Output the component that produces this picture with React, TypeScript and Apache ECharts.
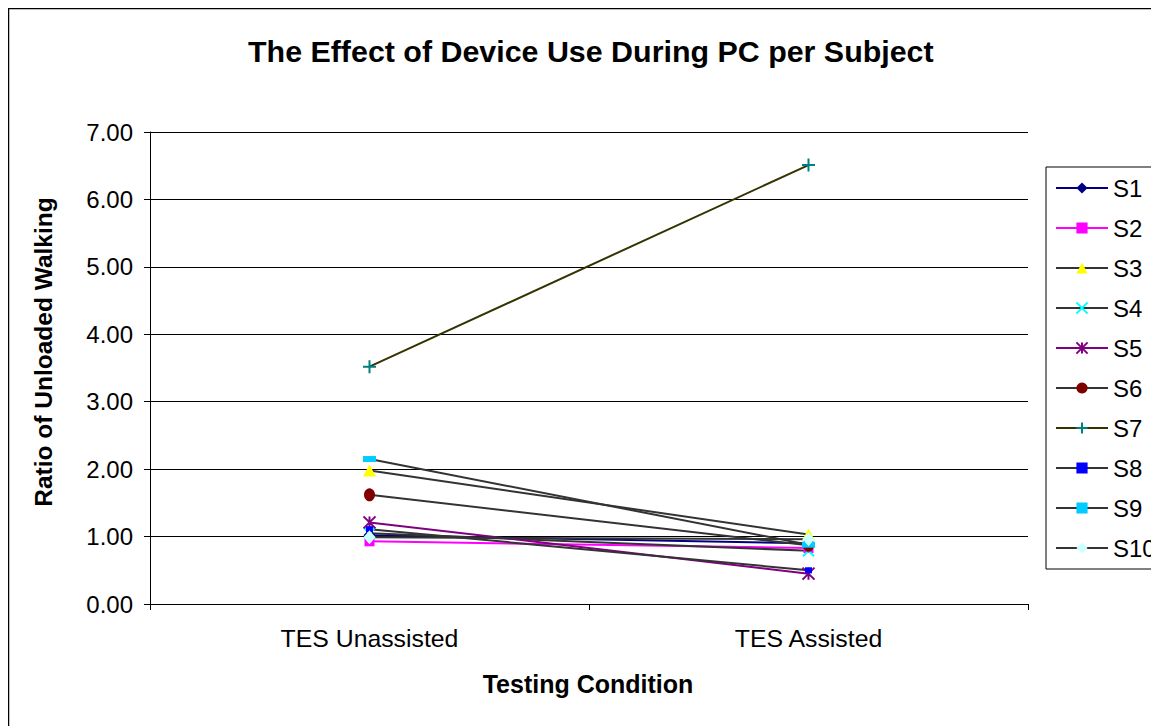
import React, { useEffect, useRef } from "react";
import * as echarts from "echarts";

const categories = ["TES Unassisted", "TES Assisted"];
const yTicks = [0, 1, 2, 3, 4, 5, 6, 7];
const seriesNames = ["S1", "S2", "S3", "S4", "S5", "S6", "S7", "S8", "S9", "S10"];
const s1 = [1.02, 0.9];
const s2 = [0.93, 0.83];
const s3 = [1.98, 1.03];
const s4 = [1.05, 0.79];
const s5 = [1.21, 0.45];
const s6 = [1.62, 0.87];
const s7 = [3.52, 6.51];
const s8 = [1.11, 0.5];
const s9 = [2.15, 0.88];
const s10 = [0.99, 0.96];
const seriesValues = [s1, s2, s3, s4, s5, s6, s7, s8, s9, s10];

const FONT = "'Liberation Sans', Arial, sans-serif";
const GRAY = "#333333";

type Sty = {
  line: string;
  color: string;
  symbol: string;
  size: number | number[];
  stroke?: boolean;
};

const styles: Sty[] = [
  { line: "#000080", color: "#000080", symbol: "diamond", size: [12, 13] },
  { line: "#FF00FF", color: "#FF00FF", symbol: "rect", size: [10, 10] },
  { line: GRAY, color: "#FFFF00", symbol: "triangle", size: [13, 12] },
  { line: GRAY, color: "#00FFFF", symbol: "path://M0,0L10,10M10,0L0,10", size: [11, 11], stroke: true },
  { line: "#800080", color: "#800080", symbol: "path://M0,0L10,10M10,0L0,10M5,0L5,10", size: [12, 12], stroke: true },
  { line: GRAY, color: "#800000", symbol: "circle", size: [11, 13] },
  { line: "#333300", color: "#008080", symbol: "path://M5,0L5,10M0,5L10,5", size: [13, 13], stroke: true },
  { line: GRAY, color: "#0000FF", symbol: "rect", size: [7, 6] },
  { line: GRAY, color: "#00CCFF", symbol: "rect", size: [13, 6] },
  { line: GRAY, color: "#CCFFFF", symbol: "diamond", size: [12, 14] },
];

const W = 1151;
const H = 718;

export default function App() {
  const ref = useRef<HTMLDivElement>(null);
  useEffect(() => {
    if (!ref.current) return;
    document.documentElement.style.overflow = "hidden";
    document.body.style.overflow = "hidden";
    const chart = echarts.init(ref.current, undefined, { renderer: "svg" });
    const series = seriesNames.map((name, i) => {
      const st = styles[i];
      return {
        name,
        type: "line",
        data: seriesValues[i],
        symbol: st.symbol,
        symbolSize: st.size,
        showAllSymbol: true,
        lineStyle: { color: st.line, width: 2 },
        itemStyle: st.stroke
          ? { color: st.color, borderColor: st.color, borderWidth: 2 }
          : { color: st.color, borderWidth: 0 },
        emphasis: { disabled: true },
      };
    });
    chart.setOption({
      animation: false,
      backgroundColor: "#ffffff",
      textStyle: { fontFamily: FONT },
      grid: { left: 142, right: W - 1020, top: 124, bottom: 122, containLabel: false },
      xAxis: {
        type: "category",
        data: categories,
        boundaryGap: true,
        axisLine: { lineStyle: { color: "#000", width: 1 } },
        axisTick: { show: true, length: 6, lineStyle: { color: "#000" } },
        axisLabel: { fontSize: 24.8, color: "#000", margin: 22, fontFamily: FONT },
        splitLine: { show: false },
      },
      yAxis: {
        type: "value",
        min: yTicks[0],
        max: yTicks[yTicks.length - 1],
        interval: 1,
        axisLine: { show: true, lineStyle: { color: "#000", width: 1 } },
        axisTick: { show: true, length: 6, lineStyle: { color: "#000" } },
        axisLabel: {
          fontSize: 24,
          color: "#000",
          margin: 17,
          fontFamily: FONT,
          formatter: (v: number) => v.toFixed(2),
        },
        splitLine: { show: true, lineStyle: { color: "#000", width: 1 } },
      },
      legend: {
        orient: "vertical",
        left: 1038,
        top: 159,
        itemWidth: 52,
        itemHeight: 14,
        itemGap: 16,
        padding: [9, 12, 9, 9],
        borderColor: "#000",
        borderWidth: 1,
        backgroundColor: "#fff",
        textStyle: { fontSize: 24, lineHeight: 24, color: "#000", fontFamily: FONT },
        data: seriesNames,
      },
      graphic: [
        {
          type: "rect",
          shape: { x: 0.5, y: 0.5, width: 1300, height: 900 },
          style: { fill: "none", stroke: "#000", lineWidth: 1.5 },
          silent: true,
          z: -10,
        },
        {
          type: "text",
          x: 240,
          y: 43,
          style: {
            text: "The Effect of Device Use During PC per Subject",
            font: `bold 30.4px ${FONT}`,
            fill: "#000",
            textAlign: "left",
            textVerticalAlign: "middle",
          },
        },
        {
          type: "text",
          x: 35,
          y: 344,
          rotation: Math.PI / 2,
          style: {
            text: "Ratio of Unloaded Walking",
            font: `bold 24.5px ${FONT}`,
            fill: "#000",
            textAlign: "center",
            textVerticalAlign: "middle",
          },
        },
        {
          type: "text",
          x: 580,
          y: 676,
          style: {
            text: "Testing Condition",
            font: `bold 25px ${FONT}`,
            fill: "#000",
            textAlign: "center",
            textVerticalAlign: "middle",
          },
        },
      ],
      series,
    });
    return () => chart.dispose();
  }, []);
  return <div ref={ref} style={{ width: W, height: H }} />;
}
